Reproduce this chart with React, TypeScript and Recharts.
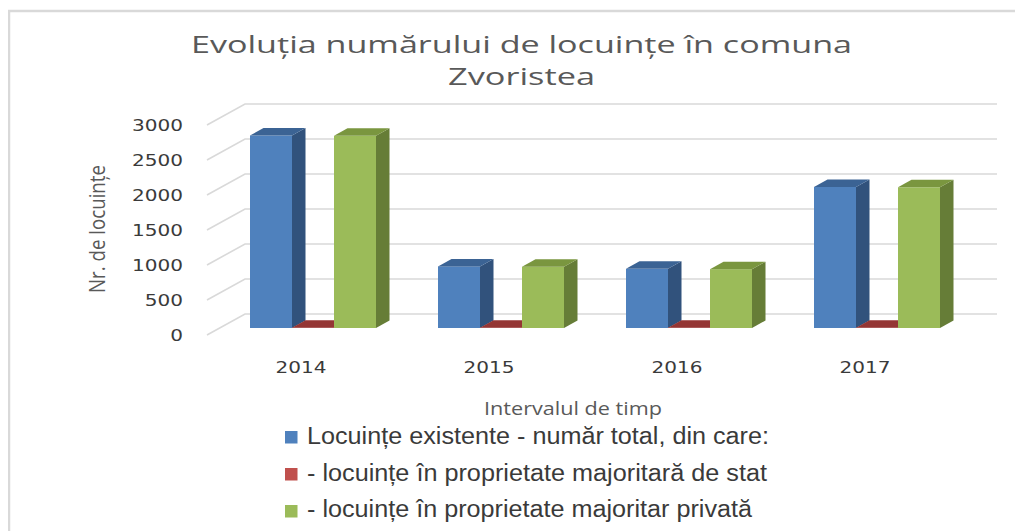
import React from 'react';
import { BarChart, Bar, XAxis, YAxis, CartesianGrid, Legend } from 'recharts';

const years = ['2014', '2015', '2016', '2017'];
const totalHousing = [2750, 880, 845, 2015];
const stateHousing = [5, 5, 5, 5];
const privateHousing = [2745, 875, 840, 2010];
const yTicks = [0, 500, 1000, 1500, 2000, 2500, 3000];
const seriesNames = [
  'Locuințe existente - număr total, din care:',
  '- locuințe în proprietate majoritară de stat',
  '- locuințe în proprietate majoritar privată',
];
const titleLines = ['Evoluția numărului de locuințe în comuna', 'Zvoristea'];
const yTitle = 'Nr. de locuințe';
const xTitle = 'Intervalul de timp';

const data = years.map((y, i) => ({
  year: y,
  total: totalHousing[i],
  state: stateHousing[i],
  priv: privateHousing[i],
}));

const W = 1015;
const H = 523;
const DX = 13.5;
const DY = -7.5;
const GRID = '#d9d9d9';

const make3D = (front: string, side: string, top: string) => (props: any) => {
  const { x, y, width, height } = props;
  if (x == null || y == null) return <g />;
  const w = width;
  const h = Math.max(height, 0);
  return (
    <g>
      <rect x={x} y={y} width={w} height={h} fill={front} />
      <polygon
        points={`${x + w},${y} ${x + w + DX},${y + DY} ${x + w + DX},${y + h + DY} ${x + w},${y + h}`}
        fill={side}
      />
      <polygon
        points={`${x},${y} ${x + DX},${y + DY} ${x + w + DX},${y + DY} ${x + w},${y}`}
        fill={top}
      />
    </g>
  );
};

const gridLine = (props: any) => {
  const { x1, x2, y1, key } = props;
  const pts = `${x1 - 12},${y1 + 7} ${x1 + 26},${y1 - 14} ${x2 + 26},${y1 - 14}`;
  return <polyline key={key} points={pts} fill="none" stroke={GRID} strokeWidth={1.6} />;
};

const YTick = (props: any) => {
  const { x, y, payload } = props;
  const s = String(payload.value);
  return (
    <text
      x={x}
      y={y + 7}
      dy="0.36em"
      textAnchor="end"
      fontFamily="DejaVu Sans, Verdana, sans-serif"
      fontSize={16.5}
      fill="#3a3a3a"
      textLength={s.length * 12.75}
      lengthAdjust="spacingAndGlyphs"
    >
      {s}
    </text>
  );
};

const XTick = (props: any) => {
  const { x, y, payload } = props;
  const s = String(payload.value);
  return (
    <text
      x={x - 12}
      y={y + 45}
      textAnchor="middle"
      fontFamily="DejaVu Sans, Verdana, sans-serif"
      fontSize={16.5}
      fill="#3a3a3a"
      textLength={s.length * 12.75}
      lengthAdjust="spacingAndGlyphs"
    >
      {s}
    </text>
  );
};

const legendWidths = [462, 460, 445];

const LegendContent = (props: any) => {
  const payload = [...(props.payload || [])].sort(
    (a: any, b: any) => seriesNames.indexOf(a.value) - seriesNames.indexOf(b.value)
  );
  return (
    <svg width={560} height={108} style={{ display: 'block', overflow: 'visible' }}>
      {payload.map((p: any, i: number) => (
        <g key={i}>
          <rect x={7} y={8 + i * 37} width={12.5} height={12.5} fill={p.color} />
          <text
            x={29}
            y={21 + i * 36.7}
            fontFamily="Liberation Sans, Arial, sans-serif"
            fontSize={23}
            fill="#3a3a3a"
            textLength={legendWidths[i]}
            lengthAdjust="spacingAndGlyphs"
          >
            {p.value}
          </text>
        </g>
      ))}
    </svg>
  );
};

export default function App() {
  return (
    <div style={{ position: 'relative', width: W, height: H, overflow: 'hidden', background: '#fff' }}>
      <svg
        width={W}
        height={H}
        style={{ position: 'absolute', left: 0, top: 0 }}
      >
        <rect x={1} y={3} width={W + 100} height={H + 100} fill="#fff" stroke="#d9d9d9" strokeWidth={2.5} />
        {titleLines.map((t, i) => (
          <text
            key={i}
            x={513.5}
            y={45 + i * 32}
            textAnchor="middle"
            fontFamily="Open Sans, sans-serif"
            fontSize={24.5}
            fill="#595959"
            textLength={i === 0 ? 661 : 147}
            lengthAdjust="spacingAndGlyphs"
          >
            {t}
          </text>
        ))}
      </svg>
      <div style={{ position: 'absolute', left: 0, top: 0 }}>
        <BarChart
          width={W}
          height={H}
          data={data}
          margin={{ top: 110, right: 52, left: 0, bottom: 0 }}
          barGap={0}
          barSize={42}
        >
          <CartesianGrid vertical={false} horizontal={gridLine} />
          <YAxis
            width={211}
            domain={[0, 3000]}
            ticks={yTicks}
            interval={0}
            axisLine={false}
            tickLine={false}
            tickSize={0}
            tickMargin={36}
            tick={<YTick />}
            label={(p: any) => {
              const vb = p.viewBox || { x: 0, y: 110, width: 211, height: 210 };
              const cx = vb.x + 89;
              const cy = vb.y + vb.height / 2 + 6;
              return (
                <text
                  x={cx}
                  y={cy}
                  transform={`rotate(-90 ${cx} ${cy})`}
                  textAnchor="middle"
                  dominantBaseline="central"
                  fontFamily="Open Sans, sans-serif"
                  fontSize={21}
                  fill="#595959"
                  textLength={128}
                  lengthAdjust="spacingAndGlyphs"
                >
                  {yTitle}
                </text>
              );
            }}
          />
          <XAxis
            dataKey="year"
            height={203}
            axisLine={false}
            tickLine={false}
            tickSize={0}
            tickMargin={0}
            interval={0}
            tick={<XTick />}
            label={(p: any) => {
              const vb = p.viewBox || { x: 211, y: 320, width: 752, height: 203 };
              return (
                <text
                  x={vb.x + 354}
                  y={vb.y + 87}
                  textAnchor="middle"
                  fontFamily="Open Sans, sans-serif"
                  fontSize={17.5}
                  fill="#595959"
                  textLength={178}
                  lengthAdjust="spacingAndGlyphs"
                >
                  {xTitle}
                </text>
              );
            }}
          />
          <Legend
            layout="horizontal"
            verticalAlign="middle"
            align="center"
            wrapperStyle={{ position: 'absolute', left: 270, top: 415, width: 560, height: 108 }}
            content={<LegendContent />}
          />
          <Bar dataKey="total" name={seriesNames[0]} fill="#4F81BD" isAnimationActive={false} shape={make3D('#4F81BD', '#31527C', '#3B6394')} />
          <Bar dataKey="state" name={seriesNames[1]} fill="#C0504D" isAnimationActive={false} shape={make3D('#C0504D', '#8C3836', '#943634')} />
          <Bar dataKey="priv" name={seriesNames[2]} fill="#9BBB59" isAnimationActive={false} shape={make3D('#9BBB59', '#667D37', '#7A963F')} />
        </BarChart>
      </div>
    </div>
  );
}
